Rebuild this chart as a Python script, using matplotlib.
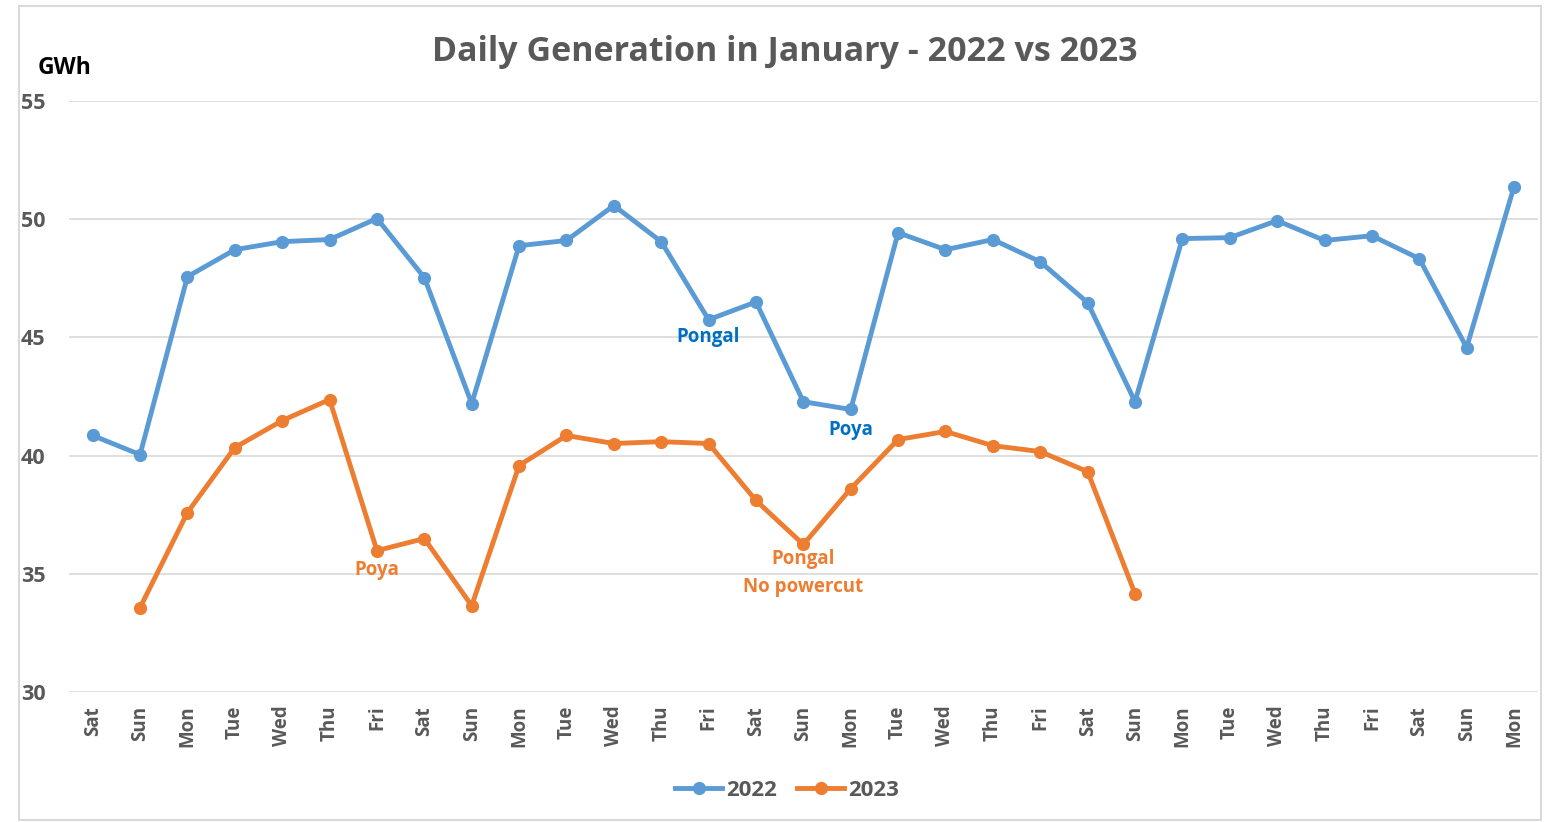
import numpy as np
import matplotlib.pyplot as plt
from matplotlib.patches import Rectangle

# weekday labels for the 31 days of January (2022 calendar)
days = ['Sat', 'Sun', 'Mon', 'Tue', 'Wed', 'Thu', 'Fri'] * 4 + ['Sat', 'Sun', 'Mon']

# daily generation, GWh
gen_2022 = [40.85, 40.04, 47.57, 48.71, 49.05, 49.14, 50.03, 47.53, 42.2, 48.88,
            49.1, 50.58, 49.05, 45.75, 46.5, 42.28, 41.95, 49.43, 48.71, 49.14,
            48.2, 46.47, 42.28, 49.18, 49.22, 49.94, 49.1, 49.3, 48.33, 44.57, 51.38]
# 2023 starts on a Sunday
gen_2023 = [np.nan, 33.57, 37.59, 40.34, 41.48, 42.37, 35.98, 36.49, 33.65, 39.58,
            40.85, 40.51, 40.59, 40.51, 38.1, 36.24, 38.6, 40.68, 41.02, 40.42,
            40.17, 39.32, 34.16]

# notes: (x index, y, text, colour)
notes = [(13, 45.0, 'Pongal', '#0070C0'),
         (16, 41.1, 'Poya', '#0070C0'),
         (6, 35.18, 'Poya', '#ED7D31'),
         (15, 35.64, 'Pongal', '#ED7D31'),
         (15, 34.46, 'No powercut', '#ED7D31')]

plt.rcParams['font.family'] = ['Open Sans', 'DejaVu Sans']
plt.rcParams['font.weight'] = 'bold'
grey = '#595959'

fig = plt.figure(figsize=(15.47, 8.22), dpi=100)
ax = fig.add_axes([0.0446, 0.1582, 0.9494, 0.7189])

x = np.arange(len(days))
ax.plot(x, gen_2022, color='#5B9BD5', lw=3.5, marker='o', ms=8.5, label='2022')
ax.plot(x[:len(gen_2023)], gen_2023, color='#ED7D31', lw=3.5, marker='o', ms=8.5, label='2023')

for xi, yi, txt, c in notes:
    ax.text(xi, yi, txt, color=c, fontsize=13.5, fontweight='bold', ha='center', va='center')

ax.set_xlim(-0.5, len(days) - 0.5)
ax.set_ylim(30, 55)
ax.set_yticks([30, 35, 40, 45, 50, 55])
ax.set_xticks(x)
ax.set_xticklabels(days, rotation=90, fontsize=13.5, fontweight='bold', color=grey)
ax.set_yticklabels(['30', '35', '40', '45', '50', '55'], fontsize=15.5,
                   fontweight='bold', color=grey)
ax.tick_params(axis='x', length=0, pad=10)
ax.tick_params(axis='y', length=0, pad=17)
ax.grid(axis='y', color='#D9D9D9', lw=1.2)
ax.set_axisbelow(True)
for s in ax.spines.values():
    s.set_visible(False)

fig.text(0.507, 0.937, 'Daily Generation in January - 2022 vs 2023', ha='center', va='center',
         fontsize=24.5, fontweight='bold', color=grey)
fig.text(0.024, 0.917, 'GWh', ha='left', va='center', fontsize=16.5, fontweight='bold', color='black')

leg = fig.legend(loc='center', bbox_to_anchor=(0.509, 0.038), ncol=2, frameon=False,
                 fontsize=16, handlelength=2.1, columnspacing=0.9, handletextpad=0.2)
for t in leg.get_texts():
    t.set_color(grey)
    t.set_fontweight('bold')

fig.patches.append(Rectangle((0.012, 0.003), 0.984, 0.99, transform=fig.transFigure,
                             fill=False, edgecolor='#D9D9D9', lw=1.5))

fig.savefig('out.png', dpi=100)
